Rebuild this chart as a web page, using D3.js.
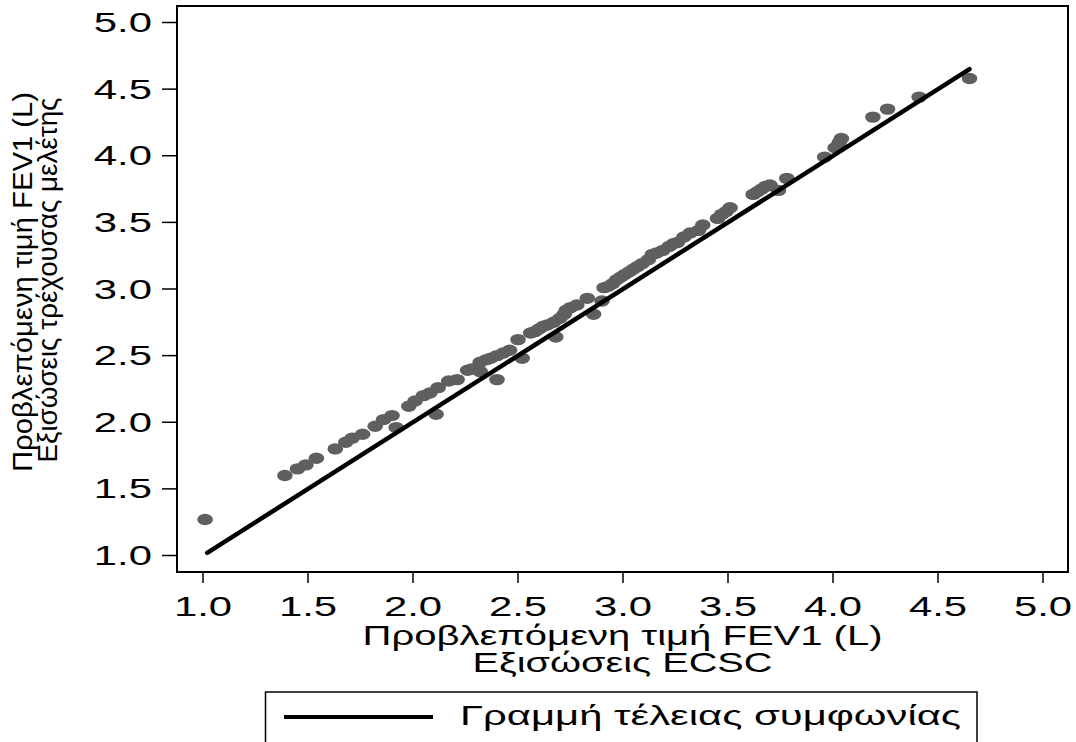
<!DOCTYPE html>
<html>
<head>
<meta charset="utf-8">
<script src="https://cdn.jsdelivr.net/npm/d3@7"></script>
<style>
  html, body { margin: 0; padding: 0; background: #fff; }
  svg { display: block; }
  text { font-family: "Liberation Sans", Arial, sans-serif; fill: #000; }
</style>
</head>
<body>
<svg id="chart" width="1076" height="742"></svg>
<script>
// ---- data ----
const xTicks = [1.0, 1.5, 2.0, 2.5, 3.0, 3.5, 4.0, 4.5, 5.0];
const yTicks = [1.0, 1.5, 2.0, 2.5, 3.0, 3.5, 4.0, 4.5, 5.0];
const xTickLabels = ["1.0", "1.5", "2.0", "2.5", "3.0", "3.5", "4.0", "4.5", "5.0"];
const yTickLabels = ["1.0", "1.5", "2.0", "2.5", "3.0", "3.5", "4.0", "4.5", "5.0"];

// predicted FEV1 (ECSC equations) on x, predicted FEV1 (current study) on y
const ecscValues = [
  1.01, 1.39, 1.45, 1.49, 1.54, 1.63, 1.68, 1.71, 1.76, 1.82, 1.86, 1.90, 1.92,
  1.98, 2.01, 2.05, 2.08, 2.11, 2.12, 2.17, 2.21, 2.26, 2.28, 2.32, 2.32, 2.35,
  2.37, 2.40, 2.40, 2.43, 2.46, 2.50, 2.52, 2.56, 2.58, 2.60, 2.62, 2.64, 2.67,
  2.68, 2.70, 2.72, 2.73, 2.75, 2.78, 2.83, 2.86, 2.90, 2.91, 2.93, 2.95, 2.97,
  2.99, 3.01, 3.03, 3.05, 3.07, 3.09, 3.12, 3.14, 3.16, 3.19, 3.22, 3.24, 3.26,
  3.29, 3.32, 3.36, 3.38, 3.45, 3.47, 3.49, 3.51, 3.62, 3.64, 3.66, 3.68, 3.70,
  3.74, 3.78, 3.96, 4.01, 4.03, 4.04, 4.19, 4.26, 4.41, 4.65
];
const studyValues = [
  1.27, 1.60, 1.65, 1.68, 1.73, 1.80, 1.85, 1.88, 1.91, 1.97, 2.02, 2.05, 1.96,
  2.12, 2.16, 2.20, 2.22, 2.06, 2.26, 2.31, 2.32, 2.39, 2.40, 2.45, 2.38, 2.47,
  2.48, 2.32, 2.50, 2.52, 2.54, 2.62, 2.48, 2.67, 2.68, 2.70, 2.72, 2.73, 2.75,
  2.64, 2.78, 2.81, 2.84, 2.86, 2.88, 2.93, 2.81, 2.91, 3.01, 3.02, 3.04, 3.07,
  3.09, 3.11, 3.13, 3.15, 3.17, 3.19, 3.22, 3.26, 3.27, 3.29, 3.32, 3.34, 3.35,
  3.39, 3.42, 3.44, 3.48, 3.53, 3.56, 3.58, 3.61, 3.71, 3.73, 3.75, 3.77, 3.78,
  3.74, 3.83, 3.99, 4.06, 4.10, 4.13, 4.29, 4.35, 4.44, 4.58
];
// line of perfect agreement (y = x)
const agreementLine = [1.02, 4.65];

const xTitleLines = ["Προβλεπόμενη τιμή FEV1 (L)", "Εξισώσεις ECSC"];
const yTitleLines = ["Προβλεπόμενη τιμή FEV1 (L)", "Εξισώσεις τρέχουσας μελέτης"];
const legendLabel = "Γραμμή τέλειας συμφωνίας";

// ---- layout ----
const box = { left: 177, right: 1068, top: 6, bottom: 572 };
const SX = 1.55; // horizontal stretch of the text
const FS = 27;

const svg = d3.select("#chart");

const x = d3.scaleLinear().domain([1, 5]).range([203, 1043]);
const y = d3.scaleLinear().domain([1, 5]).range([555.5, 22.5]);

function stretchedText(g, tx, ty, str, anchor, size, len) {
  const t = g.append("text")
    .attr("transform", `translate(${tx},${ty}) scale(${SX},1)`)
    .attr("text-anchor", anchor)
    .attr("font-size", size)
    .text(str);
  if (len) t.attr("textLength", len / SX).attr("lengthAdjust", "spacingAndGlyphs");
  return t;
}

// points
const pts = ecscValues.map((v, i) => ({ x: v, y: studyValues[i] }));
svg.append("g")
  .selectAll("ellipse")
  .data(pts)
  .join("ellipse")
  .attr("cx", d => x(d.x))
  .attr("cy", d => y(d.y))
  .attr("rx", 7.8)
  .attr("ry", 5.7)
  .attr("fill", "#5f5f5f");

// line of perfect agreement
svg.append("path")
  .datum(agreementLine)
  .attr("d", d3.line().x(d => x(d)).y(d => y(d)))
  .attr("stroke", "#000")
  .attr("stroke-width", 4.5)
  .attr("stroke-linecap", "round")
  .attr("fill", "none");

// plot box
svg.append("rect")
  .attr("x", box.left).attr("y", box.top)
  .attr("width", box.right - box.left).attr("height", box.bottom - box.top)
  .attr("fill", "none").attr("stroke", "#000").attr("stroke-width", 2);

// x axis ticks
const gx = svg.append("g");
gx.selectAll("line").data(xTicks).join("line")
  .attr("x1", d => x(d)).attr("x2", d => x(d))
  .attr("y1", box.bottom).attr("y2", box.bottom + 11)
  .attr("stroke", "#000").attr("stroke-width", 1.5);
xTicks.forEach((d, i) => stretchedText(gx, x(d), 616, xTickLabels[i], "middle", FS));

// y axis ticks
const gy = svg.append("g");
gy.selectAll("line").data(yTicks).join("line")
  .attr("x1", box.left - 15).attr("x2", box.left)
  .attr("y1", d => y(d)).attr("y2", d => y(d))
  .attr("stroke", "#000").attr("stroke-width", 1.5);
yTicks.forEach((d, i) => stretchedText(gy, 152, y(d) + 9.5, yTickLabels[i], "end", FS));

// x title
const cx = (box.left + box.right) / 2;
stretchedText(svg, cx, 645, xTitleLines[0], "middle", FS, 520);
stretchedText(svg, cx, 672, xTitleLines[1], "middle", FS, 300);

// y title (rotated)
const cy = 282;
svg.append("text")
  .attr("transform", `translate(32,${cy}) rotate(-90)`)
  .attr("text-anchor", "middle")
  .attr("font-size", 27)
  .attr("textLength", 380).attr("lengthAdjust", "spacingAndGlyphs")
  .text(yTitleLines[0]);
svg.append("text")
  .attr("transform", `translate(57,${cy - 2}) rotate(-90)`)
  .attr("text-anchor", "middle")
  .attr("font-size", 27)
  .attr("textLength", 365).attr("lengthAdjust", "spacingAndGlyphs")
  .text(yTitleLines[1]);

// legend
const lg = svg.append("g");
lg.append("rect")
  .attr("x", 265.5).attr("y", 692)
  .attr("width", 977 - 265.5).attr("height", 80)
  .attr("fill", "none").attr("stroke", "#000").attr("stroke-width", 1.5);
lg.append("line")
  .attr("x1", 284).attr("x2", 433).attr("y1", 717).attr("y2", 717)
  .attr("stroke", "#000").attr("stroke-width", 4);
stretchedText(lg, 460, 725, legendLabel, "start", FS, 501);
</script>
</body>
</html>
